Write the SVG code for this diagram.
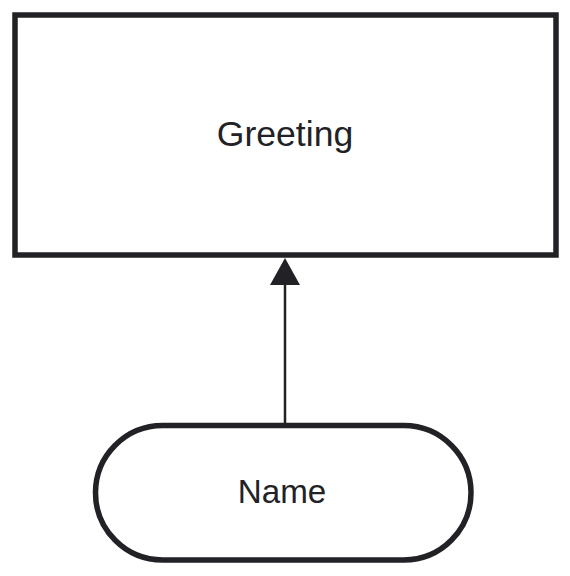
<svg xmlns="http://www.w3.org/2000/svg" width="570" height="576" viewBox="0 0 570 576">
<style>
.shape{fill:#ffffff;stroke:#222226;stroke-width:5.5}
.label{font-family:"Liberation Sans",Arial,sans-serif;fill:#222226;text-anchor:middle}
.conn{stroke:#222226;stroke-width:2.5;fill:none}
.head{fill:#222226}
</style>
<rect width="570" height="576" fill="#ffffff"/>
<g id="connectors">
<line class="conn" x1="285" y1="425" x2="285" y2="285"/>
<path class="head" d="M285,258 L300,285 L270,285 Z"/>
</g>
<g id="greeting">
<rect class="shape" x="15" y="15" width="541" height="240"/>
<text class="label" x="285" y="145.7" font-size="35.6">Greeting</text>
</g>
<g id="name">
<rect class="shape" x="95.5" y="425.5" width="375.5" height="134.5" rx="67.25" ry="67.25"/>
<text class="label" x="282" y="503.3" font-size="33.2">Name</text>
</g>
</svg>
